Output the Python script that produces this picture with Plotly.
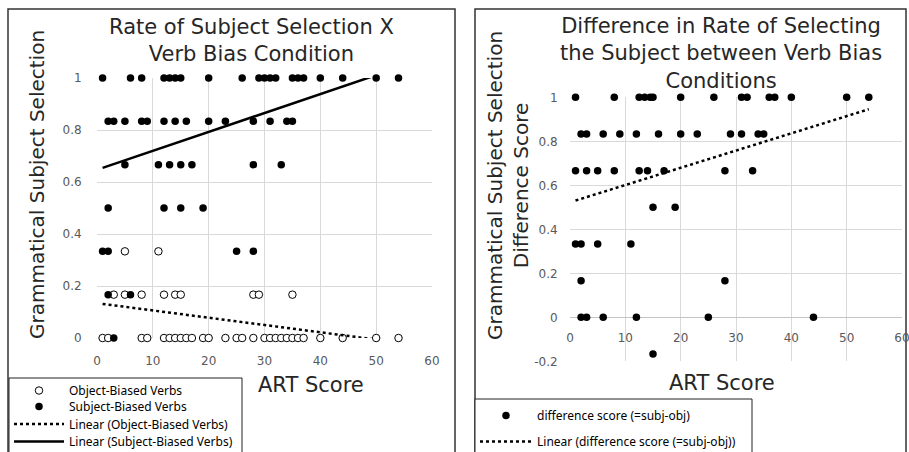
import plotly.graph_objects as go

W, H = 909, 452

# ---------------- data ----------------
# Left chart: rate of subject selection by ART score
subj_levels = [1.0, 5/6, 4/6, 0.5, 2/6, 1/6, 0.0]
subj_x_by_level = [
    [1, 6, 8, 12, 13, 14, 15, 20, 26, 29, 30, 31, 32, 35, 36, 37, 40, 44, 50, 54],
    [2, 3, 5, 8, 9, 12, 14, 16, 20, 23, 28, 31, 34, 35],
    [5, 11, 13, 15, 17, 28, 33],
    [2, 12, 15, 19],
    [1, 2, 25, 28],
    [2, 6],
    [3],
]
obj_levels = [2/6, 1/6, 0.0]
obj_x_by_level = [
    [5, 11],
    [3, 5, 8, 12, 14, 15, 28, 29, 35],
    [1, 2, 8, 9, 12, 13, 14, 15, 16, 17, 19, 20, 23, 25, 26, 28,
     30, 31, 32, 33, 34, 35, 36, 37, 40, 44, 50, 54],
]
# Right chart: difference score (subj - obj)
diff_levels = [1.0, 5/6, 4/6, 0.5, 2/6, 1/6, 0.0, -1/6]
diff_x_by_level = [
    [1, 8, 12.5, 13.5, 14.5, 15, 20, 26, 31, 32, 36, 37, 40, 50, 54],
    [2, 3, 6, 9, 12, 16, 20, 23, 29, 31, 34, 35],
    [1, 3, 5, 8, 12.5, 14, 17, 28, 33],
    [15, 19],
    [1, 2, 5, 11],
    [2, 28],
    [2, 3, 6, 12, 25, 44],
    [15],
]
# Linear trendlines (intercept, slope)
subj_trend = (0.647, 0.00728)
obj_trend = (0.134, -0.0028)
diff_trend = (0.523, 0.00783)
trend_x = [1, 54]

x_ticks = [0, 10, 20, 30, 40, 50, 60]
left_y_ticks = [0, 0.2, 0.4, 0.6, 0.8, 1]
left_y_labels = ["0", "0.2", "0.4", "0.6", "0.8", "1"]
right_y_ticks = [-0.2, 0, 0.2, 0.4, 0.6, 0.8, 1]
right_y_labels = ["-0.2", "0", "0.2", "0.4", "0.6", "0.8", "1"]


def flatten(levels, xs):
    ox, oy = [], []
    for lv, row in zip(levels, xs):
        for x in row:
            ox.append(x)
            oy.append(lv)
    return ox, oy


subj_x, subj_y = flatten(subj_levels, subj_x_by_level)
obj_x, obj_y = flatten(obj_levels, obj_x_by_level)
diff_x, diff_y = flatten(diff_levels, diff_x_by_level)


def trend(coef):
    a, b = coef
    return [a + b * x for x in trend_x]


def px(x):
    return x / W


def py(y):
    return 1 - y / H


fig = go.Figure()

# left chart traces
fig.add_trace(go.Scatter(
    x=obj_x, y=obj_y, mode="markers", name="Object-Biased Verbs",
    marker=dict(symbol="circle", size=7.5, color="white",
                line=dict(color="black", width=1)),
    cliponaxis=False, xaxis="x", yaxis="y", legend="legend"))
fig.add_trace(go.Scatter(
    x=subj_x, y=subj_y, mode="markers", name="Subject-Biased Verbs",
    marker=dict(symbol="circle", size=7.5, color="black"),
    cliponaxis=False, xaxis="x", yaxis="y", legend="legend2"))
fig.add_trace(go.Scatter(
    x=trend_x, y=trend(obj_trend), mode="lines",
    name="Linear (Object-Biased Verbs)",
    line=dict(color="black", width=2.5, dash="dot"),
    xaxis="x", yaxis="y", legend="legend3"))
fig.add_trace(go.Scatter(
    x=trend_x, y=trend(subj_trend), mode="lines",
    name="Linear (Subject-Biased Verbs)",
    line=dict(color="black", width=2.5),
    xaxis="x", yaxis="y", legend="legend4"))

# right chart traces
fig.add_trace(go.Scatter(
    x=diff_x, y=diff_y, mode="markers", name="difference score (=subj-obj)",
    marker=dict(symbol="circle", size=7.5, color="black"),
    cliponaxis=False, xaxis="x2", yaxis="y2", legend="legend5"))
fig.add_trace(go.Scatter(
    x=trend_x, y=trend(diff_trend), mode="lines",
    name="Linear (difference score (=subj-obj))",
    line=dict(color="black", width=2.5, dash="dot"),
    xaxis="x2", yaxis="y2", legend="legend6"))

grid = "#d9d9d9"
tickfont = dict(family="DejaVu Sans", size=12, color="#595959")
clear = "rgba(0,0,0,0)"
legfont = dict(family="Noto Sans", size=12, color="black")


def leg(x, top, itemwidth):
    return dict(x=px(x), y=py(top), xanchor="left", yanchor="top",
                bgcolor=clear, borderwidth=0, font=legfont,
                itemwidth=itemwidth)


fig.update_layout(
    width=W, height=H,
    margin=dict(l=0, r=0, t=0, b=0, autoexpand=False),
    paper_bgcolor="white", plot_bgcolor="white",
    showlegend=True,
    xaxis=dict(domain=[px(97), px(432)], range=[0, 60], tickvals=x_ticks,
               showgrid=True, gridcolor=grid, zeroline=False,
               ticks="outside", ticklen=12, tickcolor=clear,
               tickfont=tickfont, anchor="y", fixedrange=True),
    yaxis=dict(domain=[py(338), py(78)], range=[0, 1], tickvals=left_y_ticks,
               ticktext=left_y_labels, showgrid=True, gridcolor=grid,
               zeroline=False, ticks="outside", ticklen=12, tickcolor=clear,
               tickfont=tickfont, anchor="x", fixedrange=True),
    xaxis2=dict(domain=[px(570), px(902)], range=[0, 60], tickvals=x_ticks,
                showgrid=True, gridcolor=grid, zeroline=False,
                ticks="outside", ticklen=9, tickcolor=clear,
                tickfont=tickfont, anchor="free", position=py(317.3),
                ticklabeloverflow="allow", fixedrange=True),
    yaxis2=dict(domain=[py(361.3), py(97.3)], range=[-0.2, 1],
                tickvals=right_y_ticks, ticktext=right_y_labels,
                showgrid=True, gridcolor=grid, zeroline=True,
                zerolinecolor="#c4c4c4", zerolinewidth=1.3,
                ticks="outside", ticklen=9, tickcolor=clear,
                tickfont=tickfont, anchor="x2", fixedrange=True),
    legend=leg(9, 376, 50),
    legend2=leg(9, 392, 50),
    legend3=leg(9, 409.5, 50),
    legend4=leg(9, 427, 50),
    legend5=leg(475, 401, 52),
    legend6=leg(475, 427, 52),
)

# chart borders
fig.add_shape(type="rect", xref="paper", yref="paper",
              x0=px(8), x1=px(455), y0=py(470), y1=py(9),
              line=dict(color="#333", width=1.5), layer="below")
fig.add_shape(type="rect", xref="paper", yref="paper",
              x0=px(475), x1=px(906), y0=py(470), y1=py(9),
              line=dict(color="#333", width=1.5), layer="below")
# legend boxes
fig.add_shape(type="rect", xref="paper", yref="paper",
              x0=px(9), x1=px(242), y0=py(470), y1=py(378),
              line=dict(color="#222", width=1), fillcolor="white",
              layer="above")
fig.add_shape(type="rect", xref="paper", yref="paper",
              x0=px(475), x1=px(752), y0=py(470), y1=py(399),
              line=dict(color="#222", width=1), fillcolor="white",
              layer="above")

titlefont = dict(family="DejaVu Sans", size=21, color="#262626")
axtitlefont = dict(family="DejaVu Sans", size=20, color="#262626")

fig.add_annotation(text="Rate of Subject Selection X<br>Verb Bias Condition",
                   x=px(251), y=py(40), xref="paper", yref="paper",
                   showarrow=False, font=titlefont, xanchor="center",
                   yanchor="middle")
fig.add_annotation(text="Difference in Rate of Selecting<br>the Subject between Verb Bias<br>Conditions",
                   x=px(721), y=py(53.5), xref="paper", yref="paper",
                   showarrow=False, font=titlefont, xanchor="center",
                   yanchor="middle")
fig.add_annotation(text="ART Score", x=px(311), y=py(385), xref="paper",
                   yref="paper", showarrow=False, font=titlefont,
                   xanchor="center", yanchor="middle")
fig.add_annotation(text="ART Score", x=px(722), y=py(383), xref="paper",
                   yref="paper", showarrow=False, font=titlefont,
                   xanchor="center", yanchor="middle")
fig.add_annotation(text="Grammatical Subject Selection", x=px(37), y=py(185),
                   xref="paper", yref="paper", showarrow=False,
                   font=axtitlefont, textangle=-90, xanchor="center",
                   yanchor="middle")
fig.add_annotation(text="Grammatical Subject Selection<br>Difference Score",
                   x=px(508), y=py(185), xref="paper", yref="paper",
                   showarrow=False, font=axtitlefont, textangle=-90,
                   xanchor="center", yanchor="middle")

fig.write_html(
    "out.html",
    config={"displayModeBar": False},
    post_script="document.body.style.margin='0px';"
                "document.body.style.overflow='hidden';",
)
